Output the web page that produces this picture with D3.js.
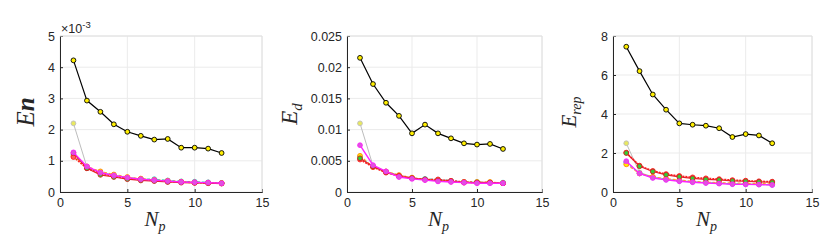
<!DOCTYPE html>
<html>
<head>
<meta charset="utf-8">
<script src="https://cdn.jsdelivr.net/npm/d3@7"></script>
<style>
body { margin: 0; background: #fff; }
.tick text { font-family: "Liberation Sans", Arial, sans-serif; font-size: 12.5px; fill: #262626; }
.lbl { font-family: "Liberation Serif", "Times New Roman", serif; font-style: italic; font-weight: normal; fill: #262626; }
</style>
</head>
<body>
<div id="chart"></div>
<script>
const np = [1, 2, 3, 4, 5, 6, 7, 8, 9, 10, 11, 12];

// panel 1 (x 1e-3)
const enBlack   = [4.22, 2.93, 2.57, 2.17, 1.93, 1.80, 1.68, 1.70, 1.42, 1.42, 1.39, 1.25];
const enGrey    = [2.20, 0.80, 0.62, 0.52, 0.45, 0.41, 0.38, 0.35, 0.33, 0.31, 0.30, 0.28];
const enMagenta = [1.27, 0.82, 0.62, 0.53, 0.46, 0.41, 0.38, 0.35, 0.32, 0.31, 0.30, 0.28];
const enGreen   = [1.25, 0.76, 0.55, 0.48, 0.41, 0.37, 0.35, 0.32, 0.30, 0.29, 0.28, 0.27];
const enRed     = [1.12, 0.76, 0.60, 0.50, 0.44, 0.40, 0.37, 0.34, 0.32, 0.30, 0.29, 0.28];
const enOrange  = [1.15, 0.82, 0.66, 0.56, 0.48, 0.43, 0.39, 0.36, 0.33, 0.31, 0.30, 0.29];
const enCyan    = [1.20, 0.80, 0.62, 0.54, 0.46, 0.42, 0.41, 0.37, 0.34, 0.33, 0.31, 0.29];

// panel 2
const edBlack   = [0.0215, 0.0173, 0.0143, 0.0122, 0.0094, 0.0108, 0.0094, 0.0086, 0.0078, 0.0076, 0.0077, 0.0069];
const edGrey    = [0.0110, 0.0042, 0.0033, 0.0027, 0.0023, 0.0020, 0.0019, 0.0017, 0.0016, 0.0015, 0.0015, 0.0014];
const edMagenta = [0.0075, 0.0043, 0.0033, 0.0024, 0.0021, 0.0019, 0.0017, 0.0016, 0.0015, 0.0014, 0.0014, 0.0014];
const edGreen   = [0.0054, 0.0041, 0.0032, 0.0025, 0.0022, 0.0020, 0.0018, 0.0017, 0.0015, 0.0015, 0.0015, 0.0014];
const edRed     = [0.0052, 0.0040, 0.0031, 0.0026, 0.0022, 0.0020, 0.0020, 0.0018, 0.0016, 0.0015, 0.0015, 0.0014];
const edOrange  = [0.0058, 0.0040, 0.0033, 0.0027, 0.0023, 0.0020, 0.0019, 0.0017, 0.0016, 0.0016, 0.0016, 0.0014];
const edCyan    = [0.0056, 0.0041, 0.0032, 0.0025, 0.0022, 0.0021, 0.0020, 0.0018, 0.0016, 0.0016, 0.0015, 0.0015];

// panel 3
const erBlack   = [7.45, 6.20, 5.00, 4.22, 3.52, 3.45, 3.40, 3.27, 2.82, 2.97, 2.90, 2.50];
const erGrey    = [2.50, 1.00, 0.78, 0.66, 0.58, 0.52, 0.48, 0.45, 0.42, 0.41, 0.40, 0.38];
const erMagenta = [1.58, 0.95, 0.72, 0.62, 0.55, 0.50, 0.46, 0.43, 0.40, 0.39, 0.38, 0.36];
const erGreen   = [2.00, 1.32, 1.05, 0.88, 0.78, 0.70, 0.65, 0.62, 0.57, 0.55, 0.52, 0.50];
const erRed     = [2.02, 1.35, 1.08, 0.92, 0.82, 0.75, 0.70, 0.66, 0.61, 0.58, 0.55, 0.53];
const erOrange  = [1.42, 0.95, 0.78, 0.68, 0.62, 0.55, 0.50, 0.48, 0.46, 0.45, 0.43, 0.42];
const erCyan    = [1.52, 0.96, 0.74, 0.64, 0.57, 0.52, 0.48, 0.45, 0.42, 0.40, 0.39, 0.37];

const xTicks = [0, 5, 10, 15];
const enTicks = [0, 1, 2, 3, 4, 5];
const edTicks = [0, 0.005, 0.01, 0.015, 0.02, 0.025];
const erTicks = [0, 2, 4, 6, 8];

const svg = d3.select("#chart").append("svg")
    .attr("width", 830)
    .attr("height", 249);

// line + marker styling for each series, bottom to top
function styles(black, grey, magenta, green, red, orange, cyan) {
    return [
        { v: grey, c: "#bdbdbd", ms: "#bdbdbd", mf: "#e8e860", dash: null, w: 1 },
        { v: cyan, c: "#33cccc", ms: "#33cccc", mf: "#66dddd", dash: "3,2", w: 1.2 },
        { v: orange, c: "#ff9933", ms: "#ff8800", mf: "#ffee00", dash: "3,2", w: 1.2 },
        { v: red, c: "#ff2020", ms: "#ff2020", mf: "#ff6060", dash: "2,1", w: 1.6 },
        { v: green, c: "#e8202a", ms: "#d02020", mf: "#33cc33", dash: null, w: 1.2 },
        { v: magenta, c: "#ff22ff", ms: "#ff22ff", mf: "#dd55dd", dash: null, w: 1.4 },
        { v: black, c: "#000000", ms: "#000000", mf: "#ffee00", dash: null, w: 1.2 }
    ];
}

const panels = [
    { x0: 60, x1: 262, ymax: 5, ticks: enTicks, series: styles(enBlack, enGrey, enMagenta, enGreen, enRed, enOrange, enCyan) },
    { x0: 347, x1: 542, ymax: 0.025, ticks: edTicks, series: styles(edBlack, edGrey, edMagenta, edGreen, edRed, edOrange, edCyan) },
    { x0: 613, x1: 812, ymax: 8, ticks: erTicks, series: styles(erBlack, erGrey, erMagenta, erGreen, erRed, erOrange, erCyan) }
];
const yTop = 36, yBot = 192;

panels.forEach((p, i) => {
    let x = d3.scaleLinear().domain([0, 15]).range([p.x0, p.x1]);
    let y = d3.scaleLinear().domain([0, p.ymax]).range([yBot, yTop]);
    let g = svg.append("g");

    // grid
    g.selectAll(".gx").data(xTicks).join("line")
        .attr("class", "gx")
        .attr("x1", d => x(d)).attr("x2", d => x(d))
        .attr("y1", yTop).attr("y2", yBot)
        .attr("stroke", "#ebebeb");
    g.selectAll(".gy").data(p.ticks).join("line")
        .attr("class", "gy")
        .attr("x1", p.x0).attr("x2", p.x1)
        .attr("y1", d => y(d)).attr("y2", d => y(d))
        .attr("stroke", "#ebebeb");

    // series
    p.series.forEach(s => {
        let pts = np.map((n, k) => [n, s.v[k]]);
        g.append("path")
            .datum(pts)
            .attr("fill", "none")
            .attr("stroke", s.c)
            .attr("stroke-width", s.w)
            .attr("stroke-dasharray", s.dash)
            .attr("d", d3.line().x(d => x(d[0])).y(d => y(d[1])));
        g.selectAll(null).data(pts).join("circle")
            .attr("cx", d => x(d[0]))
            .attr("cy", d => y(d[1]))
            .attr("r", 2.4)
            .attr("fill", s.mf)
            .attr("stroke", s.ms)
            .attr("stroke-width", 0.9);
    });

    // axes
    let xAxis = g.append("g")
        .attr("transform", `translate(0,${yBot})`)
        .call(d3.axisBottom(x).tickValues(xTicks).tickSize(-3).tickPadding(6));
    let yAxis = g.append("g")
        .attr("transform", `translate(${p.x0},0)`)
        .call(d3.axisLeft(y).tickValues(p.ticks).tickFormat(d => d).tickSize(-3).tickPadding(5));
    [xAxis, yAxis].forEach(a => {
        a.select(".domain").attr("stroke", "#262626");
        a.selectAll(".tick line").attr("stroke", "#262626");
    });
    // top/right box
    g.append("line").attr("x1", p.x0).attr("x2", p.x1).attr("y1", yTop).attr("y2", yTop)
        .attr("stroke", "#e0e0e0");
    g.append("line").attr("x1", p.x1).attr("x2", p.x1).attr("y1", yTop).attr("y2", yBot)
        .attr("stroke", "#e0e0e0");

    // x label
    let xl = g.append("text").attr("class", "lbl")
        .attr("x", (p.x0 + p.x1) / 2 - 6).attr("y", 226)
        .attr("text-anchor", "middle")
        .attr("font-size", 21);
    xl.append("tspan").text("N");
    xl.append("tspan").attr("font-size", 14).attr("dy", 5).text("p");
});

// y labels
let yl1 = svg.append("text").attr("class", "lbl")
    .attr("transform", "translate(34,112) rotate(-90)")
    .attr("text-anchor", "middle")
    .attr("font-size", 25);
yl1.append("tspan").text("E");
yl1.append("tspan").attr("font-weight", "bold").text("n");

let yl2 = svg.append("text").attr("class", "lbl")
    .attr("transform", "translate(297,114) rotate(-90)")
    .attr("text-anchor", "middle")
    .attr("font-size", 23);
yl2.append("tspan").text("E");
yl2.append("tspan").attr("font-size", 15).attr("dy", 5).text("d");

let yl3 = svg.append("text").attr("class", "lbl")
    .attr("transform", "translate(576,112) rotate(-90)")
    .attr("text-anchor", "middle")
    .attr("font-size", 21);
yl3.append("tspan").text("E");
yl3.append("tspan").attr("font-size", 14).attr("dy", 5).text("rep");

// exponent label
let ex = svg.append("text")
    .attr("x", 61).attr("y", 33)
    .attr("font-family", "Liberation Sans, Arial, sans-serif")
    .attr("font-size", 12.5)
    .attr("fill", "#262626");
ex.append("tspan").text("\u00d710");
ex.append("tspan").attr("font-size", 9.5).attr("dy", -5).text("-3");
</script>
</body>
</html>
